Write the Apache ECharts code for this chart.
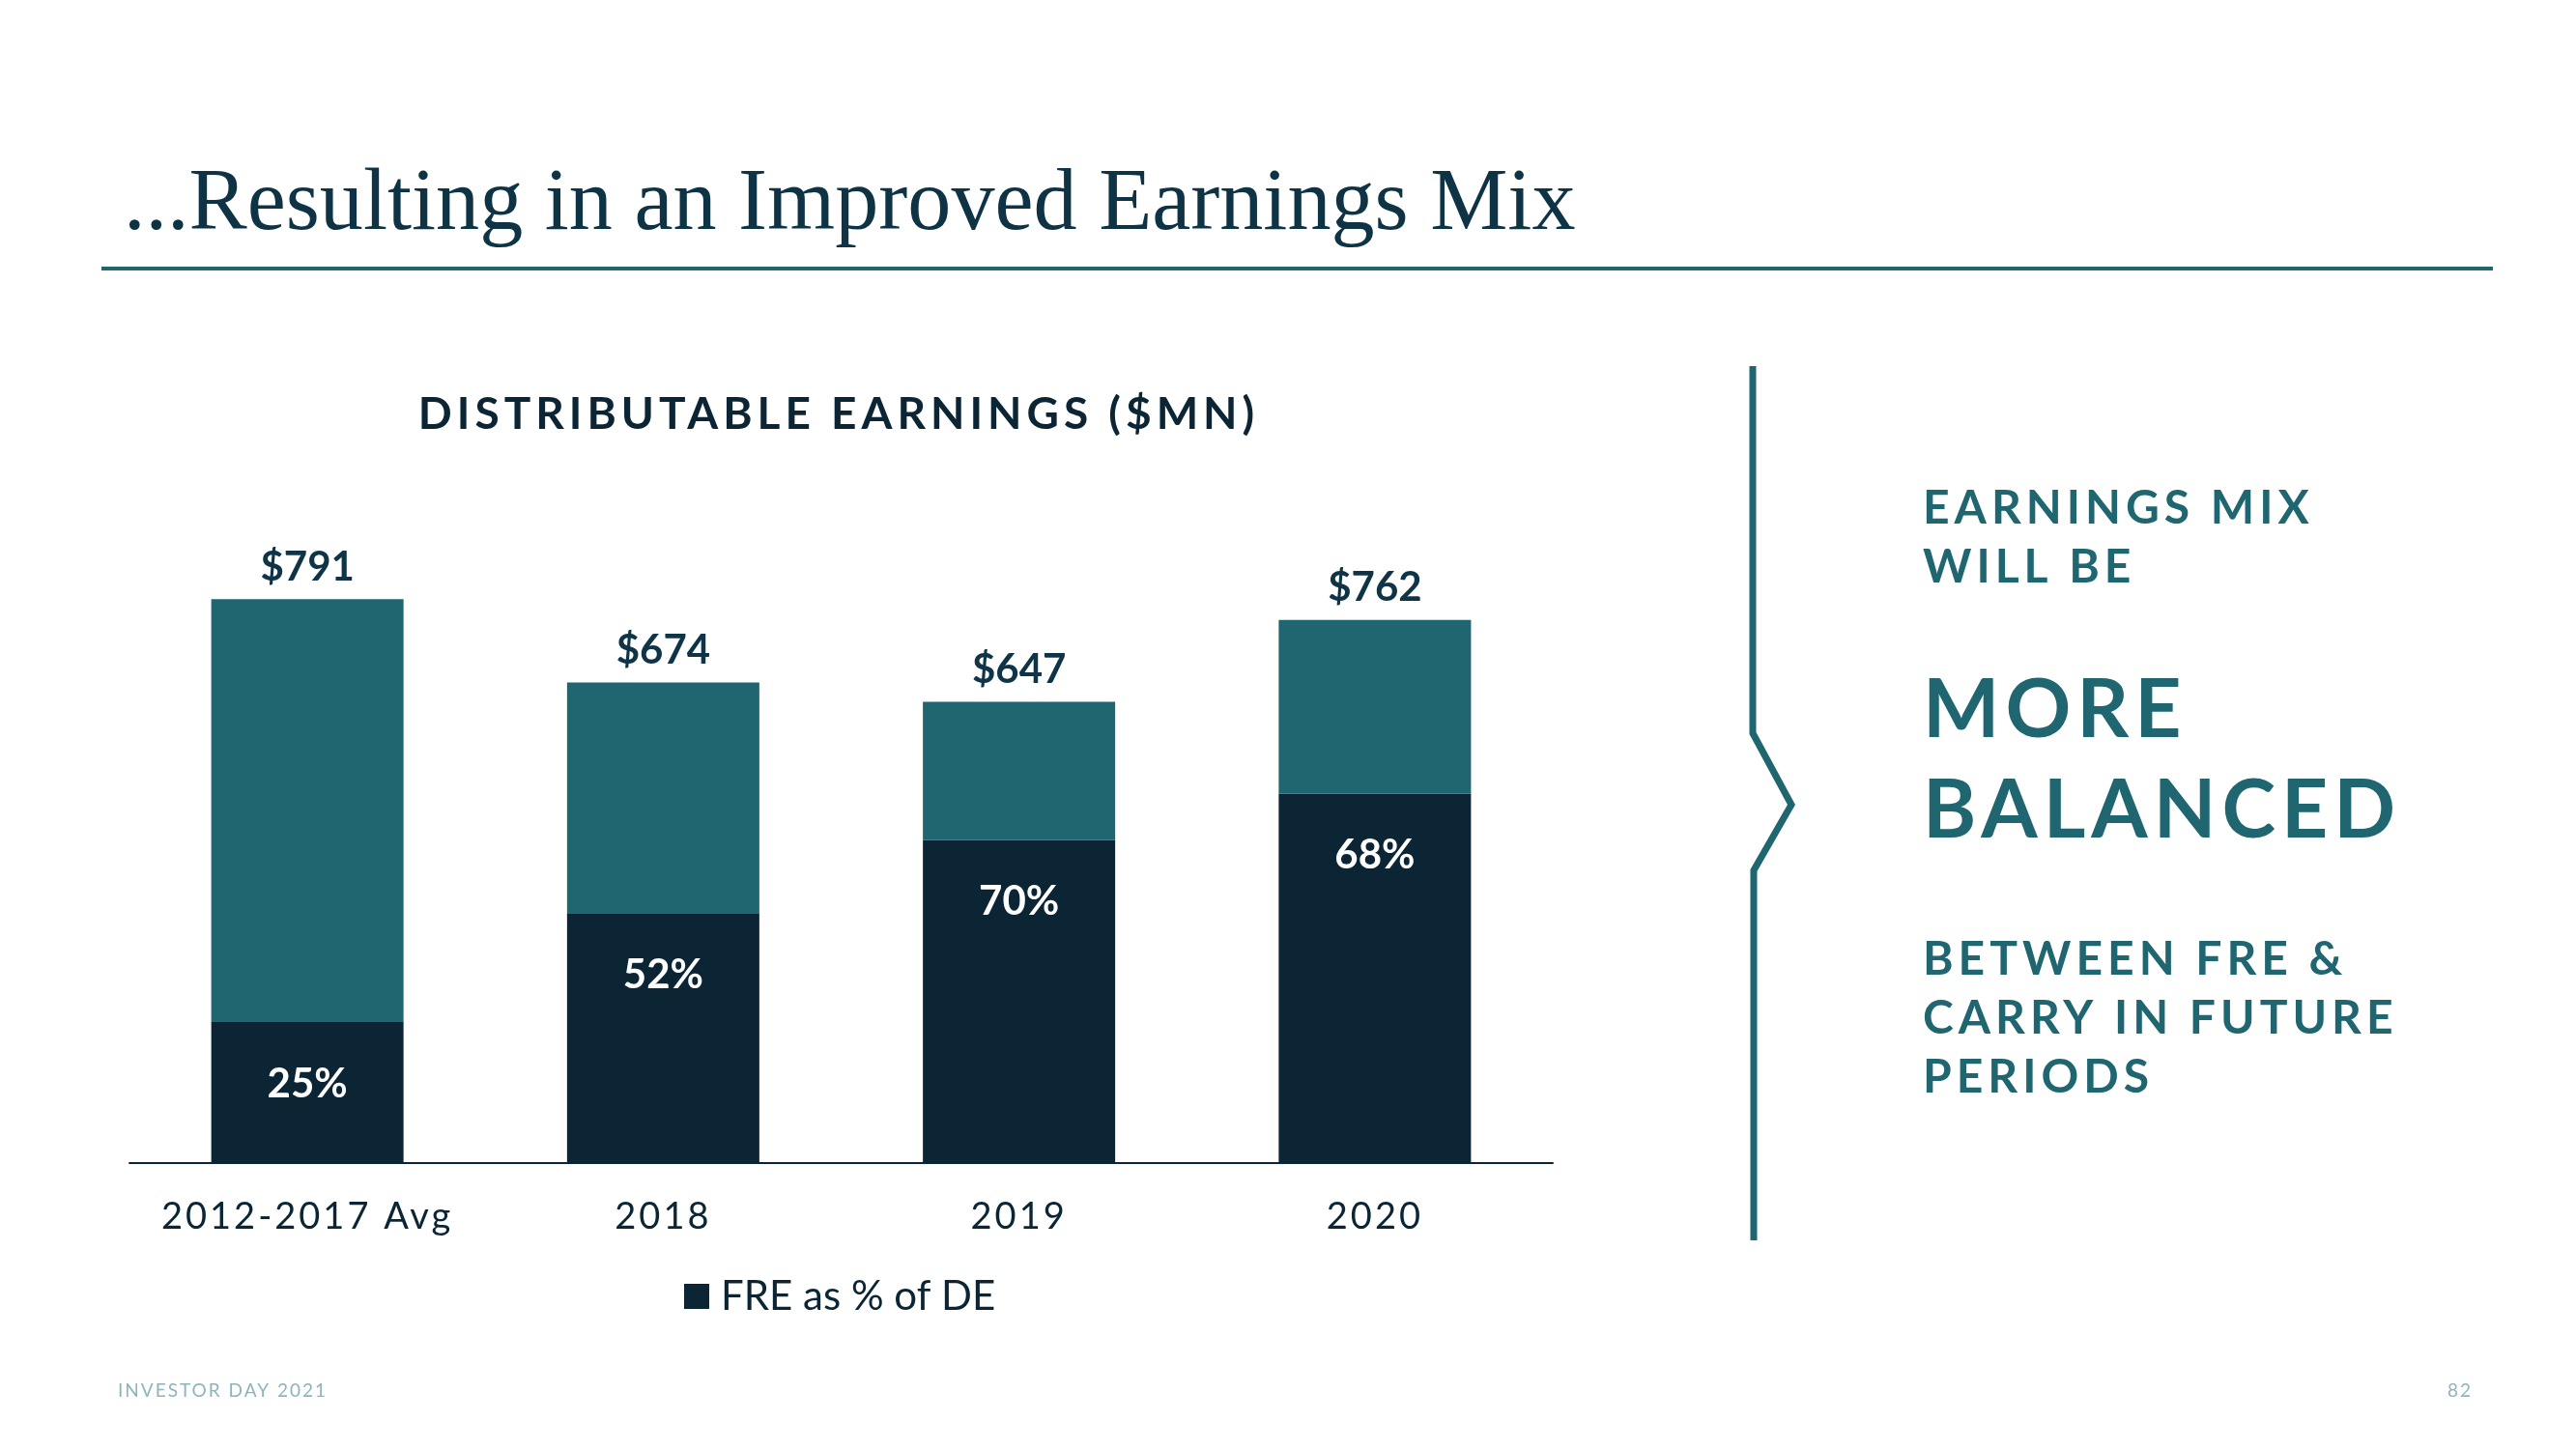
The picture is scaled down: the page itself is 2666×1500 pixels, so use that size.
<!DOCTYPE html>
<html>
<head>
<meta charset="utf-8">
<script src="https://cdn.jsdelivr.net/npm/echarts@6/dist/echarts.min.js"></script>
<style>
html,body{margin:0;padding:0;background:#fff;}
#chart{width:2666px;height:1500px;}
</style>
</head>
<body>
<div id="chart"></div>
<script>
// ---- data ----
const categories = ['2012-2017 Avg', '2018', '2019', '2020'];
const totalDE = [791, 674, 647, 762];      // Distributable earnings ($MN)
const frePct = [25, 52, 70, 68];           // FRE as % of DE
const legendName = 'FRE as % of DE';
const carryName = 'Carry';

// derived from the values above
const freValues = totalDE.map((v, i) => v * frePct[i] / 100);
const carryValues = totalDE.map((v, i) => v - freValues[i]);

// letter-spacing support: a font family "TrackN" marker sets N px tracking
(function () {
  const P = CanvasRenderingContext2D.prototype;
  const f = P.fillText, s = P.strokeText;
  function setLS(ctx) {
    const m = /Track(\d+)/.exec(ctx.font || '');
    try { ctx.letterSpacing = m ? m[1] + 'px' : '0px'; } catch (e) {}
  }
  P.fillText = function () { setLS(this); return f.apply(this, arguments); };
  P.strokeText = function () { setLS(this); return s.apply(this, arguments); };
})();

const NAVY = '#0b2535';
const TEAL = '#1f6670';
const chart = echarts.init(document.getElementById('chart'), null, { renderer: 'canvas' });

const option = {
  backgroundColor: '#ffffff',
  animation: false,
  grid: { left: 134, right: 1059, top: 466, bottom: 296 },
  xAxis: {
    type: 'category',
    data: categories,
    axisLine: { lineStyle: { color: NAVY, width: 2 } },
    axisTick: { show: false },
    axisLabel: {
      color: NAVY, fontSize: 38, fontFamily: 'Track3, Lato', margin: 37
    }
  },
  yAxis: { type: 'value', min: 0, max: 1000, show: false, splitLine: { show: false } },
  legend: {
    data: [legendName],
    left: 703, top: 1316,
    icon: 'rect', itemWidth: 26, itemHeight: 26,
    textStyle: { color: NAVY, fontSize: 42, fontFamily: 'Lato', padding: [0, 0, 0, 7] }
  },
  series: [
    {
      name: legendName, type: 'bar', stack: 'de', data: freValues, barWidth: 199,
      itemStyle: { color: NAVY },
      label: {
        show: true, position: 'insideTop', distance: 43,
        formatter: p => frePct[p.dataIndex] + '%',
        color: '#ffffff', fontSize: 42, fontWeight: 'bold', fontFamily: 'Lato'
      }
    },
    {
      name: carryName, type: 'bar', stack: 'de', data: carryValues, barWidth: 199,
      itemStyle: { color: TEAL },
      label: {
        show: true, position: 'top', distance: 12,
        formatter: p => '$' + totalDE[p.dataIndex],
        color: '#0f3447', fontSize: 42, fontWeight: 'bold', fontFamily: 'Lato'
      }
    }
  ],
  graphic: [
    { type: 'text', x: 128, y: 213, scaleX: 0.98,
      style: { text: '...Resulting in an Improved Earnings Mix', fill: '#0d3345',
        font: '92px "Liberation Serif"', textAlign: 'left', textVerticalAlign: 'middle' } },
    { type: 'line', shape: { x1: 105, y1: 278, x2: 2580, y2: 278 },
      style: { stroke: TEAL, lineWidth: 4 } },
    { type: 'text', x: 868, y: 429,
      style: { text: 'DISTRIBUTABLE EARNINGS ($MN)', fill: NAVY,
        font: 'bold 46px Track5, Lato', textAlign: 'center', textVerticalAlign: 'middle' } },
    { type: 'polyline',
      shape: { points: [[1814, 379], [1814, 759], [1854, 833], [1815, 901], [1815, 1284]] },
      style: { stroke: TEAL, lineWidth: 7, fill: null, lineJoin: 'miter' } },
    { type: 'text', x: 1990, y: 527,
      style: { text: 'EARNINGS MIX', fill: TEAL, font: 'bold 48px Track5, Lato', textVerticalAlign: 'middle' } },
    { type: 'text', x: 1990, y: 588,
      style: { text: 'WILL BE', fill: TEAL, font: 'bold 48px Track5, Lato', textVerticalAlign: 'middle' } },
    { type: 'text', x: 1990, y: 736,
      style: { text: 'MORE', fill: TEAL, font: 'bold 84px Track6, Lato', textVerticalAlign: 'middle' } },
    { type: 'text', x: 1990, y: 840,
      style: { text: 'BALANCED', fill: TEAL, font: 'bold 84px Track6, Lato', textVerticalAlign: 'middle' } },
    { type: 'text', x: 1990, y: 994,
      style: { text: 'BETWEEN FRE &', fill: TEAL, font: 'bold 48px Track5, Lato', textVerticalAlign: 'middle' } },
    { type: 'text', x: 1990, y: 1055,
      style: { text: 'CARRY IN FUTURE', fill: TEAL, font: 'bold 48px Track5, Lato', textVerticalAlign: 'middle' } },
    { type: 'text', x: 1990, y: 1116,
      style: { text: 'PERIODS', fill: TEAL, font: 'bold 48px Track5, Lato', textVerticalAlign: 'middle' } },
    { type: 'text', x: 122, y: 1440,
      style: { text: 'INVESTOR DAY 2021', fill: '#8db5bb', font: '19px Track2, Lato', textVerticalAlign: 'middle' } },
    { type: 'text', x: 2559, y: 1440,
      style: { text: '82', fill: '#8db5bb', font: '19px Track2, Lato', textAlign: 'right', textVerticalAlign: 'middle' } }
  ]
};
chart.setOption(option);
</script>
</body>
</html>
